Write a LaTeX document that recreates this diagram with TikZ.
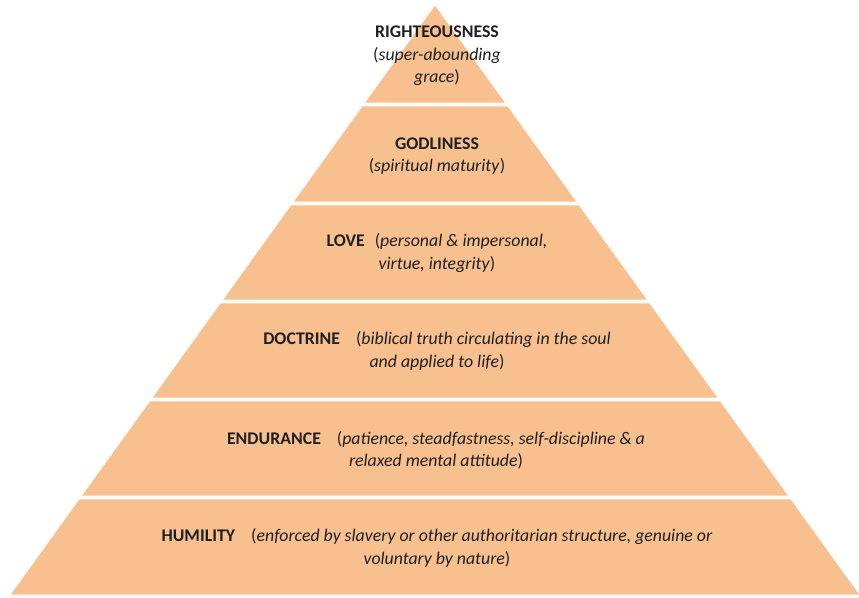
\documentclass[tikz,border=0pt]{standalone}
\usepackage{fontspec}
\setmainfont{Carlito}
\usepackage{tikz}
\definecolor{peach}{HTML}{F9C08F}
\tikzset{
  layer/.style ={fill=peach, draw=white, line width=0.6pt},
  tier/.style  ={align=center, text=black!88, font=\fontsize{17.8}{22.5}\selectfont, inner sep=0pt}
}
\newcommand{\tiername}[1]{\textbf{#1}}
\newcommand{\tierdesc}[1]{\textit{#1}}

\begin{document}
\begin{tikzpicture}[x=1pt, y=-1pt]
  \useasboundingbox (0,0) rectangle (859,597);

  % pyramid layers, top to bottom
  \foreach \t/\b in {5/103, 106/202, 205/300, 303/398, 401/496, 499/595} {
    \filldraw[layer] ({435-(\t-5)*0.7203},\t) -- ({435+(\t-5)*0.7203},\t)
      -- ({435+(\b-5)*0.7203},\b) -- ({435-(\b-5)*0.7203},\b) -- cycle;
  }

  \node[tier] (righteousness) at (437,56)
    {\tiername{RIGHTEOUSNESS}\\(\tierdesc{super-abounding}\\\tierdesc{grace})};
  \node[tier] (godliness) at (437,156)
    {\tiername{GODLINESS}\\(\tierdesc{spiritual maturity})};
  \node[tier] (love) at (437,253)
    {\tiername{LOVE}\hspace{10pt}(\tierdesc{personal \& impersonal,}\\\tierdesc{virtue, integrity})};
  \node[tier] (doctrine) at (437,351)
    {\tiername{DOCTRINE}\hspace{16pt}(\tierdesc{biblical truth circulating in the soul}\\\tierdesc{and applied to life})};
  \node[tier] (endurance) at (436,450)
    {\tiername{ENDURANCE}\hspace{16pt}(\tierdesc{patience, steadfastness, self-discipline \& a}\\\tierdesc{relaxed mental attitude})};
  \node[tier] (humility) at (437,548)
    {\tiername{HUMILITY}\hspace{16pt}(\tierdesc{enforced by slavery or other authoritarian structure, genuine or}\\\tierdesc{voluntary by nature})};

\end{tikzpicture}
\end{document}
